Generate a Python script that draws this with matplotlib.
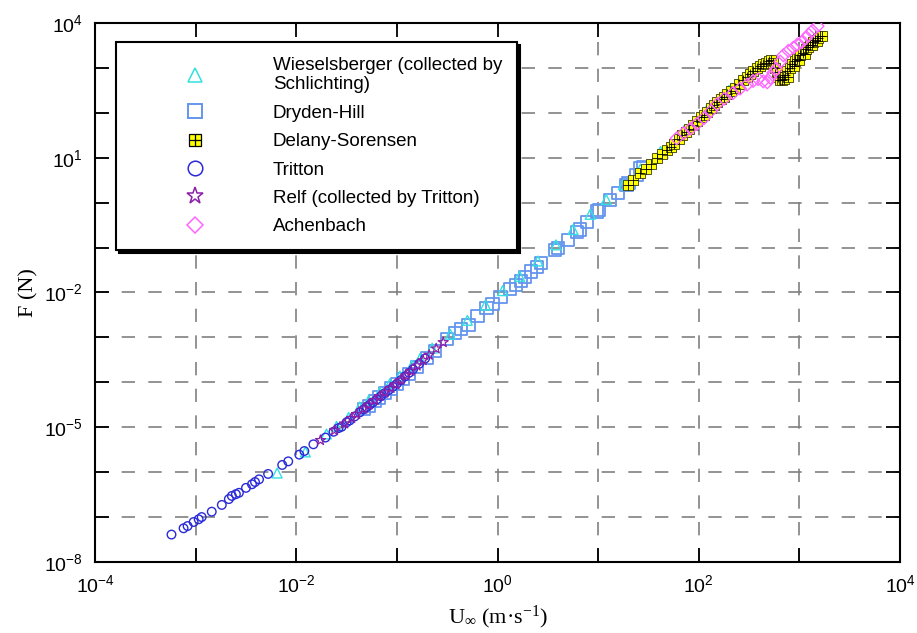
import numpy as np
import matplotlib
matplotlib.use('Agg')
import matplotlib.pyplot as plt
from matplotlib.lines import Line2D
from matplotlib.ticker import FixedLocator, FuncFormatter, NullLocator

plt.rcParams['font.family'] = ['Liberation Sans', 'DejaVu Sans']
plt.rcParams['mathtext.fontset'] = 'custom'
plt.rcParams['mathtext.rm'] = 'Liberation Serif'
plt.rcParams['mathtext.it'] = 'Liberation Serif:italic'
plt.rcParams['mathtext.sf'] = 'Liberation Sans'

# data, as log10 values
tritton_logU = [-3.24, -3.12, -3.08, -3.02, -2.97, -2.94, -2.84, -2.74, -2.67, -2.64,
                -2.60, -2.57, -2.50, -2.44, -2.41, -2.37, -2.28, -2.14, -2.08, -1.97,
                -1.92, -1.83, -1.71, -1.63, -1.58, -1.55, -1.50, -1.47, -1.42, -1.37,
                -1.33, -1.30, -1.27, -1.24, -1.20, -1.16, -1.12, -1.08, -1.04, -1.00,
                -0.96, -0.92, -0.88, -0.84, -0.78, -0.72]
tritton_logF = [-7.39, -7.25, -7.20, -7.11, -7.05, -7.00, -6.88, -6.73, -6.60, -6.53,
                -6.49, -6.46, -6.35, -6.27, -6.22, -6.16, -6.04, -5.84, -5.76, -5.61,
                -5.53, -5.38, -5.23, -5.10, -5.02, -4.99, -4.89, -4.85, -4.76, -4.67,
                -4.60, -4.55, -4.50, -4.45, -4.38, -4.31, -4.24, -4.17, -4.10, -4.03,
                -3.95, -3.87, -3.79, -3.71, -3.59, -3.47]

relf_logU = [-1.76, -1.62, -1.52, -1.45, -1.40, -1.33, -1.28, -1.22, -1.17, -1.12,
             -1.06, -1.01, -0.96, -0.91, -0.86, -0.80, -0.74, -0.68, -0.61, -0.54]
relf_logF = [-5.29, -5.07, -4.92, -4.80, -4.71, -4.59, -4.50, -4.40, -4.31, -4.23,
             -4.13, -4.05, -3.95, -3.85, -3.75, -3.63, -3.51, -3.39, -3.25, -3.11]

wiesel_logU = [-2.19, -1.91, -1.70, -1.60, -1.48, -1.37, -1.28, -1.17, -1.07, -0.97,
               -0.85, -0.77, -0.65, -0.47, -0.30, -0.12, 0.05, 0.22, 0.40, 0.58,
               0.75, 0.92, 1.08, 1.25, 1.42, 1.62, 1.85, 2.08, 2.30, 2.48]
wiesel_logF = [-6.02, -5.55, -5.15, -4.98, -4.78, -4.55, -4.40, -4.22, -4.03, -3.86,
               -3.62, -3.47, -3.24, -2.93, -2.62, -2.28, -1.96, -1.64, -1.30, -0.94,
               -0.60, -0.26, 0.07, 0.40, 0.75, 1.14, 1.60, 2.07, 2.50, 2.84]

dryden_logU = [-1.33, -1.28, -1.22, -1.18, -1.12, -1.06, -1.00, -0.94, -0.88, -0.80,
               -0.70, -0.62, -0.50, -0.42, -0.36, -0.29, -0.20, -0.11, -0.05, 0.03,
               0.12, 0.18, 0.23, 0.27, 0.33, 0.39, 0.43, 0.57, 0.60, 0.70,
               0.79, 0.82, 0.89, 0.99, 1.01, 1.12, 1.20, 1.28, 1.30, 1.38, 1.42, 1.45]
dryden_logF = [-4.60, -4.52, -4.42, -4.34, -4.24, -4.14, -4.04, -3.93, -3.81, -3.66,
               -3.46, -3.30, -3.03, -2.90, -2.82, -2.72, -2.52, -2.35, -2.25, -2.10,
               -1.93, -1.83, -1.74, -1.65, -1.53, -1.43, -1.35, -1.06, -1.01, -0.83,
               -0.65, -0.60, -0.43, -0.20, -0.17, 0.06, 0.22, 0.39, 0.44, 0.62, 0.77, 0.80]

delany_logU = [1.30, 1.35, 1.42, 1.47, 1.52, 1.58, 1.63, 1.68, 1.72, 1.75,
               1.80, 1.83, 1.87, 1.90, 1.94, 1.98, 2.02, 2.05, 2.08, 2.12,
               2.15, 2.18, 2.22, 2.25, 2.28, 2.32, 2.36, 2.40, 2.44, 2.48,
               2.51, 2.54, 2.58, 2.61, 2.64, 2.67, 2.70, 2.72, 2.74, 2.76,
               2.78, 2.79, 2.81, 2.83, 2.85, 2.86, 2.88, 2.89, 2.91, 2.93,
               2.95, 2.96, 2.98, 3.00, 3.01, 3.03, 3.05, 3.06, 3.08, 3.10,
               3.12, 3.13, 3.15, 3.17, 3.18, 3.20, 3.22]
delany_logF = [0.40, 0.50, 0.65, 0.76, 0.86, 0.99, 1.08, 1.17, 1.23, 1.30,
               1.42, 1.51, 1.57, 1.63, 1.73, 1.82, 1.90, 1.96, 2.02, 2.10,
               2.17, 2.24, 2.31, 2.36, 2.41, 2.48, 2.56, 2.64, 2.72, 2.79,
               2.86, 2.92, 2.99, 3.04, 3.08, 3.12, 3.16, 3.18, 3.10, 3.00,
               2.90, 2.80, 2.74, 2.72, 2.76, 2.85, 2.92, 2.80, 3.00, 3.08,
               3.05, 3.15, 3.20, 3.18, 3.28, 3.34, 3.30, 3.42, 3.46, 3.52,
               3.50, 3.58, 3.62, 3.60, 3.67, 3.70, 3.72]

achen_logU = [1.78, 1.85, 1.92, 1.98, 2.05, 2.12, 2.18, 2.25, 2.34, 2.41,
              2.48, 2.54, 2.59, 2.64, 2.68, 2.71, 2.74, 2.77, 2.81, 2.84,
              2.89, 2.94, 2.98, 3.02, 3.06, 3.09, 3.13, 3.18]
achen_logF = [1.43, 1.55, 1.65, 1.75, 1.88, 2.04, 2.19, 2.31, 2.44, 2.54,
              2.63, 2.71, 2.75, 2.70, 2.68, 2.78, 2.89, 2.98, 3.14, 3.28,
              3.38, 3.45, 3.52, 3.57, 3.66, 3.74, 3.83, 3.93]

c_wiesel = '#33e0e0'
c_dryden = '#6495ed'
c_delany = '#ffff00'
c_tritton = '#2a2ad8'
c_relf = '#8b1fa8'
c_achen = '#ff66ff'

fig = plt.figure(figsize=(9.17, 6.33), dpi=100)
ax = fig.add_axes([0.1036, 0.1122, 0.878, 0.8515])
ax.set_xscale('log')
ax.set_yscale('log')
ax.set_xlim(1e-4, 1e4)
ax.set_ylim(1e-8, 1e4)


def p10(v):
    return 10.0 ** np.array(v)


# draw the data
ax.scatter(p10(dryden_logU), p10(dryden_logF), s=78, marker='s', facecolors='none',
           edgecolors=c_dryden, linewidths=1.3, zorder=3)
ax.scatter(p10(wiesel_logU), p10(wiesel_logF), s=50, marker='^', facecolors='none',
           edgecolors=c_wiesel, linewidths=1.0, zorder=3)
ax.scatter(p10(tritton_logU), p10(tritton_logF), s=38, marker='o', facecolors='none',
           edgecolors=c_tritton, linewidths=1.0, zorder=3)
ax.scatter(p10(relf_logU), p10(relf_logF), s=58, marker='*', facecolors='none',
           edgecolors=c_relf, linewidths=0.9, zorder=3)
ax.scatter(p10(delany_logU), p10(delany_logF), s=62, marker='s', facecolors=c_delany,
           edgecolors='#3a3a00', linewidths=0.6, zorder=3)
ax.scatter(p10(delany_logU), p10(delany_logF), s=62, marker='+', color='k',
           linewidths=0.6, zorder=3)
ax.scatter(p10(achen_logU), p10(achen_logF), s=42, marker='D', facecolors='none',
           edgecolors=c_achen, linewidths=1.0, zorder=4)

# axes, ticks, grid
ax.xaxis.set_major_locator(FixedLocator(10.0 ** np.arange(-4, 5)))
ax.yaxis.set_major_locator(FixedLocator(10.0 ** np.arange(-8, 5)))
ax.xaxis.set_minor_locator(NullLocator())
ax.yaxis.set_minor_locator(NullLocator())


def fmt_x(v, pos):
    e = int(round(np.log10(v)))
    return r'$\mathsf{10^{%d}}$' % e if e % 2 == 0 else ''


def fmt_y(v, pos):
    e = int(round(np.log10(v)))
    return r'$\mathsf{10^{%d}}$' % e if (e + 8) % 3 == 0 else ''


ax.xaxis.set_major_formatter(FuncFormatter(fmt_x))
ax.yaxis.set_major_formatter(FuncFormatter(fmt_y))
ax.tick_params(which='major', direction='in', length=10, width=1.3,
               top=True, right=True, labelsize=14, pad=9, colors='k')
for sp in ax.spines.values():
    sp.set_linewidth(1.5)

ax.grid(True, which='major', color='#808080', linestyle=(0, (8, 8)), linewidth=1.2)
ax.set_axisbelow(True)

ax.set_xlabel(r'U$_\infty$ (m·s$^{-1}$)', family='Liberation Serif', fontsize=16, labelpad=5)
ax.set_ylabel('F (N)', family='Liberation Serif', fontsize=16, labelpad=4)

# legend
ms = 10.5
handles = [
    Line2D([], [], ls='none', marker='^', mfc='none', mec=c_wiesel, ms=ms, mew=1.1),
    Line2D([], [], ls='none', marker='s', mfc='none', mec=c_dryden, ms=ms, mew=1.4),
    (Line2D([], [], ls='none', marker='s', mfc=c_delany, mec='k', ms=ms - 1.5, mew=0.9),
     Line2D([], [], ls='none', marker='+', mec='k', ms=ms - 1.5, mew=0.9)),
    Line2D([], [], ls='none', marker='o', mfc='none', mec=c_tritton, ms=ms, mew=1.1),
    Line2D([], [], ls='none', marker='*', mfc='none', mec=c_relf, ms=ms + 2, mew=1.1),
    Line2D([], [], ls='none', marker='D', mfc='none', mec=c_achen, ms=ms - 2, mew=1.1),
]
labels = ['Wieselsberger (collected by\nSchlichting)', 'Dryden-Hill', 'Delany-Sorensen',
          'Tritton', 'Relf (collected by Tritton)', 'Achenbach']
leg = ax.legend(handles, labels, loc='upper left', bbox_to_anchor=(0.026, 0.965),
                borderaxespad=0, fontsize=13.5, handlelength=6.8, handletextpad=0.77,
                borderpad=0.8, labelspacing=0.6, fancybox=False, framealpha=1,
                edgecolor='k', shadow={'color': 'k', 'alpha': 1})
leg.get_frame().set_linewidth(1.5)
leg.set_zorder(10)

fig.savefig('out.png', dpi=100)
